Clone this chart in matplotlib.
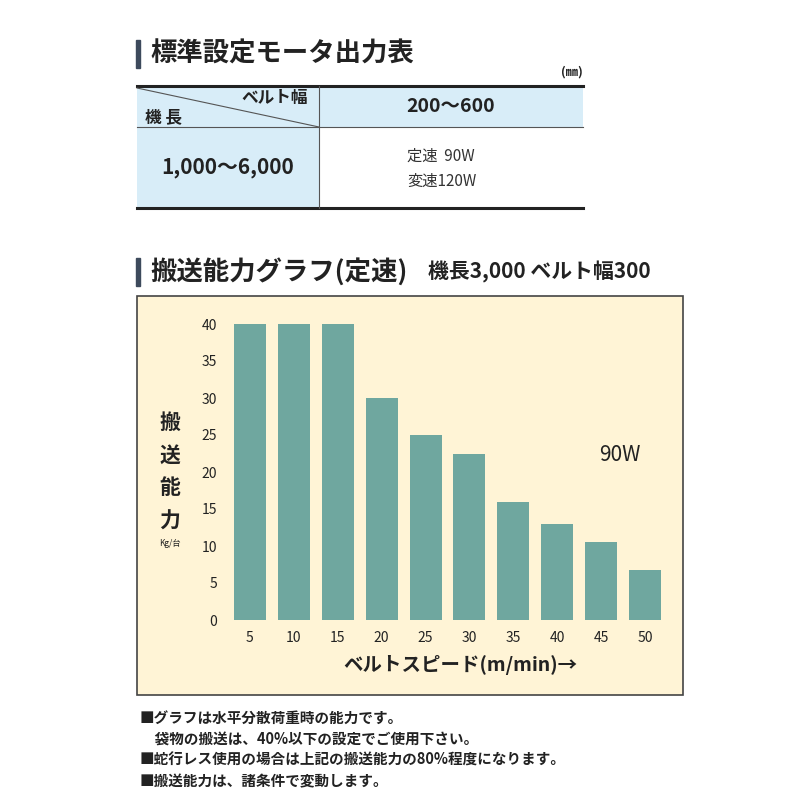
import matplotlib
matplotlib.use("Agg")
import matplotlib.pyplot as plt
from matplotlib.patches import Rectangle

plt.rcParams["font.family"] = ["Noto Sans CJK JP"]

speeds = ["5", "10", "15", "20", "25", "30", "35", "40", "45", "50"]
capacity = [40, 40, 40, 30, 25, 22.5, 16, 13, 10.5, 6.8]
yticks = [0, 5, 10, 15, 20, 25, 30, 35, 40]

fig = plt.figure(figsize=(8, 8), dpi=100)
bg = fig.add_axes([0, 0, 1, 1])
bg.set_xlim(0, 800); bg.set_ylim(800, 0); bg.axis("off")

def P(x, y):
    return x, y

# Title 1
bg.add_patch(Rectangle((136, 40), 4, 28, color="#3d4a5c"))
bg.text(150, 54, "標準設定モータ出力表", fontsize=19, fontweight="bold", va="center", color="#222")
bg.text(583, 72, "(㎜)", fontsize=9, ha="right", va="center", fontweight="bold", color="#222")
# Table
bg.add_patch(Rectangle((137, 86), 446, 41, color="#d8edf8", lw=0))
bg.add_patch(Rectangle((137, 127), 182, 81, color="#d8edf8", lw=0))
bg.plot([137, 583], [86, 86], color="#222", lw=2.2)
bg.plot([137, 583], [208, 208], color="#222", lw=2.2)
bg.plot([137, 583], [127, 127], color="#555", lw=0.8)
bg.plot([319, 319], [86, 208], color="#555", lw=0.8)
bg.plot([137, 319], [88, 127], color="#555", lw=0.8)
bg.text(308, 98, "ベルト幅", fontsize=12, fontweight="bold", ha="right", va="center", color="#222")
bg.text(145, 117, "機 長", fontsize=12, fontweight="bold", ha="left", va="center", color="#222")
bg.text(451, 107, "200〜600", fontsize=14, fontweight="bold", ha="center", va="center", color="#222")
bg.text(228, 167, "1,000〜6,000", fontsize=15, fontweight="bold", ha="center", va="center", color="#222")
bg.text(407, 156, "定速  90W", fontsize=11, ha="left", va="center", color="#333")
bg.text(407, 181, "変速120W", fontsize=11, ha="left", va="center", color="#333")

# Title 2
bg.add_patch(Rectangle((136, 258), 4, 28, color="#3d4a5c"))
bg.text(150, 272, "搬送能力グラフ(定速)", fontsize=19, fontweight="bold", va="center", color="#222")
bg.text(428, 272, "機長3,000 ベルト幅300", fontsize=15, fontweight="bold", va="center", color="#222")

# Chart panel
bg.add_patch(Rectangle((137, 296), 546, 399, facecolor="#fff4d6", edgecolor="#444", lw=1.2))
for i, ch in enumerate("搬送能力"):
    bg.text(170, 422 + i * 33, ch, fontsize=15, fontweight="bold", ha="center", va="center", color="#222")
bg.text(170, 543, "Kg/台", fontsize=6, ha="center", va="center", color="#222")
bg.text(620, 455, "90W", fontsize=15, ha="center", va="center", color="#222")
bg.text(460, 665, "ベルトスピード(m/min)→", fontsize=14, fontweight="bold", ha="center", va="center", color="#222")

# Notes
notes = ["■グラフは水平分散荷重時の能力です。",
         "　袋物の搬送は、40%以下の設定でご使用下さい。",
         "■蛇行レス使用の場合は上記の搬送能力の80%程度になります。",
         "■搬送能力は、諸条件で変動します。"]
for i, t in enumerate(notes):
    bg.text(140, 718 + i * 21, t, fontsize=10.5, fontweight="bold", va="center", color="#222")

# Bar axes: x from 228 to 667 px, y from 620 (0) to 324 (40)
ax = fig.add_axes([228 / 800, (800 - 620) / 800, (667 - 228) / 800, (620 - 324) / 800])
ax.patch.set_alpha(0)
ax.bar(range(len(speeds)), capacity, width=0.73, color="#6fa79f")
ax.set_xlim(-0.5, len(speeds) - 0.5)
ax.set_ylim(0, 40)
ax.set_xticks(range(len(speeds)))
ax.set_xticklabels(speeds, fontsize=10, color="#222")
ax.set_yticks(yticks)
ax.set_yticklabels([str(v) for v in yticks], fontsize=10, color="#222")
ax.tick_params(length=0, pad=8)
for s in ax.spines.values():
    s.set_visible(False)

fig.savefig("out.png", dpi=100)
